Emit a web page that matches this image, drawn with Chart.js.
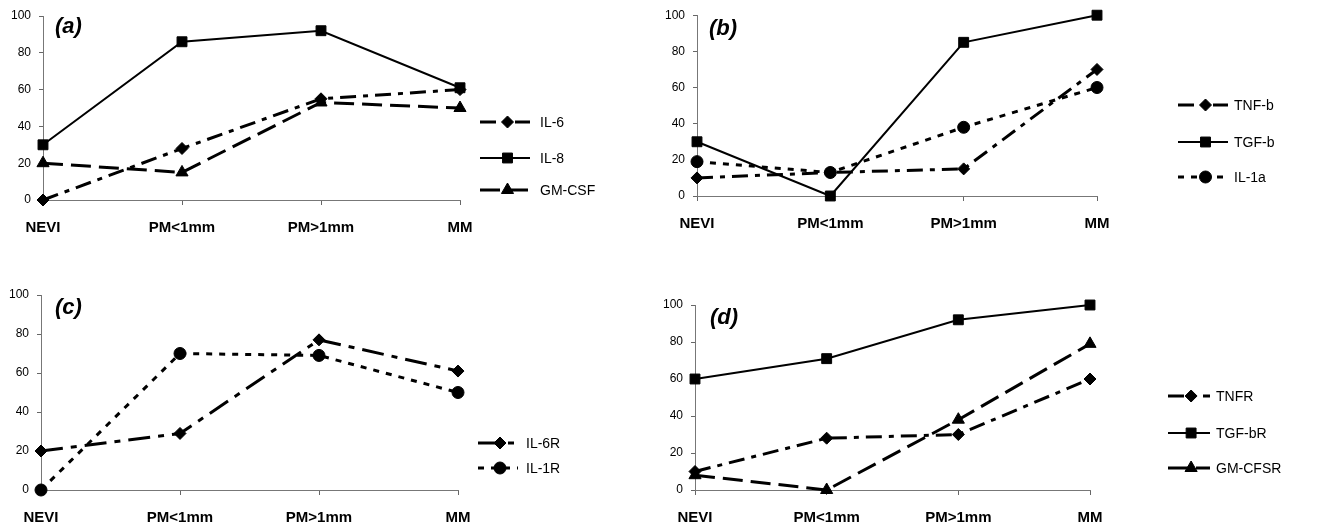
<!DOCTYPE html>
<html>
<head>
<meta charset="utf-8">
<script src="https://cdn.jsdelivr.net/npm/chart.js@4.4.1/dist/chart.umd.min.js"></script>
<style>
  html, body { margin: 0; padding: 0; background: #ffffff; }
  body { width: 1330px; height: 529px; position: relative; overflow: hidden; }
  .panel { position: absolute; }
</style>
</head>
<body>
<div class="panel" style="left:0px;top:0px;"><canvas id="ca" width="660" height="260"></canvas></div>
<div class="panel" style="left:660px;top:0px;"><canvas id="cb" width="670" height="260"></canvas></div>
<div class="panel" style="left:0px;top:260px;"><canvas id="cc" width="660" height="269"></canvas></div>
<div class="panel" style="left:660px;top:260px;"><canvas id="cd" width="670" height="269"></canvas></div>
<script>
// ---------- data ----------
const categories = ['NEVI', 'PM<1mm', 'PM>1mm', 'MM'];
const yTickValues = [0, 20, 40, 60, 80, 100];

// panel (a)
const il6   = [0, 28, 55, 60];
const il8   = [30, 86, 92, 61];
const gmcsf = [20, 15, 53, 50];
// panel (b)
const tnfb  = [10, 13, 15, 70];
const tgfb  = [30, 0, 85, 100];
const il1a  = [19, 13, 38, 60];
// panel (c)
const il6r  = [20, 29, 77, 61];
const il1r  = [0, 70, 69, 50];
// panel (d)
const tnfr   = [10, 28, 30, 60];
const tgfbr  = [60, 71, 92, 100];
const gmcfsr = [8, 0, 38, 79];

// ---------- styles ----------
const FONT = "'Liberation Sans', Arial, 'DejaVu Sans', sans-serif";
const STYLE = {
  solidSquare: { borderDash: [], borderWidth: 2, pointStyle: 'rect', pointRadius: 7 },
  dashDotDiamond: { borderDash: [16, 7, 5, 7], borderWidth: 3, pointStyle: 'rectRot', pointRadius: 6 },
  longDashTriangle: { borderDash: [20, 8], borderWidth: 3, pointStyle: 'triangle', pointRadius: 7 },
  shortDashCircle: { borderDash: [6, 7], borderWidth: 3, pointStyle: 'circle', pointRadius: 6 },
  longDashDiamond: { borderDash: [22, 8, 6, 8], borderWidth: 3, pointStyle: 'rectRot', pointRadius: 6 }
};

function ds(label, data, style) {
  const s = STYLE[style];
  return {
    label: label,
    data: data,
    borderColor: '#000',
    backgroundColor: '#000',
    pointBackgroundColor: '#000',
    pointBorderColor: '#000',
    pointBorderWidth: 1,
    borderWidth: s.borderWidth,
    borderDash: s.borderDash,
    pointStyle: s.pointStyle,
    pointRadius: s.pointRadius,
    pointHoverRadius: s.pointRadius,
    tension: 0,
    fill: false,
    clip: false
  };
}

// custom decoration: panel letter and line-sample legend
const panelDeco = {
  id: 'panelDeco',
  afterDraw(chart, args, opts) {
    const ctx = chart.ctx;
    const area = chart.chartArea;
    ctx.save();
    // panel label
    ctx.fillStyle = '#000';
    ctx.font = 'italic bold 22px ' + FONT;
    ctx.textAlign = 'left';
    ctx.textBaseline = 'middle';
    ctx.fillText(opts.label, area.left + opts.labelDx, area.top + opts.labelDy);
    // legend
    chart.data.datasets.forEach((d, i) => {
      const y = opts.legendY[i];
      const x0 = opts.legendX;
      ctx.save();
      ctx.strokeStyle = '#000';
      ctx.lineWidth = d.borderWidth;
      ctx.setLineDash(d.borderDash);
      ctx.beginPath();
      ctx.moveTo(x0, y);
      ctx.lineTo(x0 + opts.sampleLen, y);
      ctx.stroke();
      ctx.restore();
      Chart.helpers.drawPoint(ctx, {
        pointStyle: d.pointStyle,
        radius: d.pointRadius,
        rotation: 0,
        borderWidth: 1
      }, x0 + opts.sampleLen * 0.55, y);
      ctx.fillStyle = '#000';
      ctx.font = '14px ' + FONT;
      ctx.textAlign = 'left';
      ctx.textBaseline = 'middle';
      ctx.fillText(d.label, x0 + opts.sampleLen + opts.textGap, y + 1);
    });
    ctx.restore();
  }
};

function makeChart(id, datasets, geo, deco) {
  const ctx = document.getElementById(id);
  ctx.getContext('2d').fillStyle = '#000';
  return new Chart(ctx, {
    type: 'line',
    data: { labels: categories, datasets: datasets },
    plugins: [panelDeco],
    options: {
      responsive: false,
      animation: false,
      devicePixelRatio: 1,
      layout: { padding: { left: 0, top: geo.top, right: geo.right, bottom: 0 } },
      plugins: {
        legend: { display: false },
        tooltip: { enabled: false },
        panelDeco: deco
      },
      elements: { point: { backgroundColor: '#000', borderColor: '#000' } },
      scales: {
        x: {
          type: 'category',
          offset: false,
          afterFit: (s) => { s.height = geo.xHeight; },
          grid: { display: true, drawOnChartArea: false, drawTicks: true, tickLength: 5, color: '#666', lineWidth: 1 },
          border: { display: true, color: '#777', width: 1 },
          ticks: {
            color: '#000',
            padding: 14,
            maxRotation: 0,
            autoSkip: false,
            font: { family: FONT, size: 15, weight: 'bold' }
          }
        },
        y: {
          min: 0,
          max: 100,
          afterFit: (s) => { s.width = geo.yWidth; },
          afterBuildTicks: (s) => { s.ticks = yTickValues.map(v => ({ value: v })); },
          grid: { display: true, drawOnChartArea: false, drawTicks: true, tickLength: 4, color: '#666', lineWidth: 1 },
          border: { display: true, color: '#777', width: 1 },
          ticks: {
            color: '#000',
            padding: 8,
            font: { family: FONT, size: 12 }
          }
        }
      }
    }
  });
}

makeChart('ca',
  [ds('IL-6', il6, 'dashDotDiamond'), ds('IL-8', il8, 'solidSquare'), ds('GM-CSF', gmcsf, 'longDashTriangle')],
  { top: 16, right: 200, xHeight: 60, yWidth: 43 },
  { label: '(a)', labelDx: 12, labelDy: 11, legendX: 480, legendY: [122, 158, 190], sampleLen: 50, textGap: 10 });

makeChart('cb',
  [ds('TNF-b', tnfb, 'dashDotDiamond'), ds('TGF-b', tgfb, 'solidSquare'), ds('IL-1a', il1a, 'shortDashCircle')],
  { top: 13, right: 233, xHeight: 64, yWidth: 37 },
  { label: '(b)', labelDx: 12, labelDy: 14, legendX: 518, legendY: [105, 142, 177], sampleLen: 50, textGap: 6 });

makeChart('cc',
  [ds('IL-6R', il6r, 'longDashDiamond'), ds('IL-1R', il1r, 'shortDashCircle')],
  { top: 35, right: 202, xHeight: 39, yWidth: 41 },
  { label: '(c)', labelDx: 14, labelDy: 13, legendX: 478, legendY: [183, 208], sampleLen: 40, textGap: 8 });

makeChart('cd',
  [ds('TNFR', tnfr, 'dashDotDiamond'), ds('TGF-bR', tgfbr, 'solidSquare'), ds('GM-CFSR', gmcfsr, 'longDashTriangle')],
  { top: 45, right: 240, xHeight: 39, yWidth: 35 },
  { label: '(d)', labelDx: 15, labelDy: 13, legendX: 508, legendY: [136, 173, 208], sampleLen: 42, textGap: 6 });
</script>
</body>
</html>
